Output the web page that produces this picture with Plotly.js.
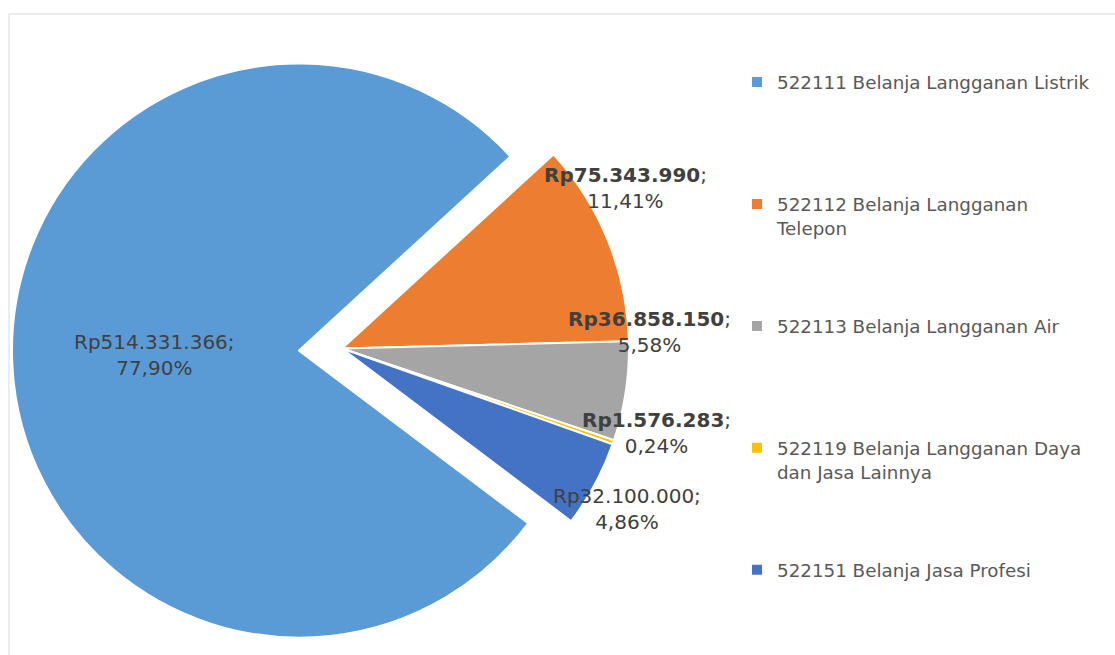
<!DOCTYPE html>
<html>
<head>
<meta charset="utf-8">
<script src="https://cdn.plot.ly/plotly-3.0.1.min.js"></script>
<style>
  html, body { margin: 0; padding: 0; overflow: hidden; background: #ffffff; }
  #chart { width: 1115px; height: 700px; }
</style>
</head>
<body>
<div id="chart"></div>
<script>
// ---------- data ----------
const categories = [
  "522111 Belanja Langganan Listrik",
  "522112 Belanja Langganan\nTelepon",
  "522113 Belanja Langganan Air",
  "522119 Belanja Langganan Daya\ndan Jasa Lainnya",
  "522151 Belanja Jasa Profesi"
];
const values = [514331366, 75343990, 36858150, 1576283, 32100000];

// ---------- style ----------
const W = 1115, H = 700;
const sliceColors = ["#5B9BD5", "#ED7D31", "#A5A5A5", "#FFC000", "#4472C4"];
const slicePull = [0.15, 0, 0, 0, 0];
const valueBold = [false, true, true, true, false];
// label centres in pixels (x, y from top-left)
const labelPos = [[154, 355], [625, 188], [649, 332], [656, 433], [627, 509]];

const fontFamily = "DejaVu Sans";
const legendLinesPerItem = 5;

// pie geometry (unpulled centre, radius)
const cx = 342, cy = 348.5, rad = 287;
const half = rad * (1 + Math.max(...slicePull));

// ---------- helpers ----------
const total = values.reduce((a, b) => a + b, 0);
const fmtRp = v => "Rp" + String(v).replace(/\B(?=(\d{3})+(?!\d))/g, ".");
const fmtPct = v => (v / total * 100).toFixed(2).replace(".", ",") + "%";

const legendLabels = categories.map(c => {
  const lines = c.split("\n");
  const top = Math.floor((legendLinesPerItem - 1) / 2);
  const bottom = legendLinesPerItem - top - lines.length;
  const pad = n => Array(Math.max(n, 0)).fill("&nbsp;");
  return pad(top).concat(lines, pad(bottom)).join("<br>");
});

const annotations = values.map((v, i) => {
  const rp = valueBold[i] ? "<b>" + fmtRp(v) + "</b>" : fmtRp(v);
  return {
    xref: "paper", yref: "paper",
    x: labelPos[i][0] / W, y: 1 - labelPos[i][1] / H,
    xanchor: "center", yanchor: "middle",
    text: rp + ";<br>" + fmtPct(v),
    showarrow: false,
    align: "center",
    font: { family: fontFamily, size: 20, color: "#404040" }
  };
});

const trace = {
  type: "pie",
  labels: legendLabels,
  values: values,
  sort: false,
  direction: "clockwise",
  rotation: 127,
  pull: slicePull,
  marker: { colors: sliceColors, line: { color: "#ffffff", width: 2 } },
  textinfo: "none",
  hoverinfo: "none",
  domain: {
    x: [(cx - half) / W, (cx + half) / W],
    y: [1 - (cy + half) / H, 1 - (cy - half) / H]
  }
};

const layout = {
  width: W, height: H,
  margin: { l: 0, r: 0, t: 0, b: 0 },
  paper_bgcolor: "#ffffff",
  showlegend: true,
  legend: {
    x: 737 / W, xanchor: "left",
    y: 1 - 16 / H, yanchor: "top",
    font: { family: fontFamily, size: 18.3, color: "#595959" },
    bgcolor: "rgba(0,0,0,0)",
    borderwidth: 0
  },
  annotations: annotations,
  shapes: [{
    type: "rect", xref: "paper", yref: "paper",
    x0: 9 / W, x1: 1.01, y0: -0.05, y1: 1 - 14 / H,
    line: { color: "#d9d9d9", width: 1 },
    fillcolor: "rgba(0,0,0,0)",
    layer: "below"
  }]
};

Plotly.newPlot("chart", [trace], layout, { displayModeBar: false, staticPlot: true });
</script>
</body>
</html>
